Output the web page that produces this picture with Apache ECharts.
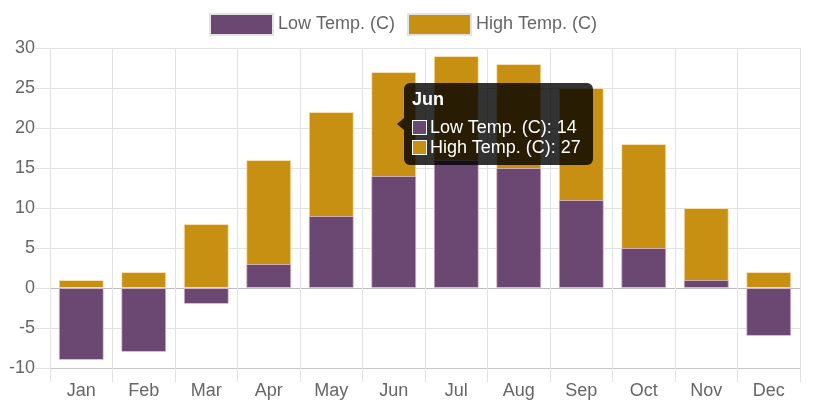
<!DOCTYPE html>
<html>
<head>
<meta charset="utf-8">
<script src="https://cdn.jsdelivr.net/npm/echarts@6/dist/echarts.min.js"></script>
<style>
html,body{margin:0;padding:0;background:#fff;}
#c{width:819px;height:409px;}
</style>
</head>
<body>
<div id="c"></div>
<script>
const months = ['Jan','Feb','Mar','Apr','May','Jun','Jul','Aug','Sep','Oct','Nov','Dec'];
const lowTemp = [-9,-8,-2,3,9,14,16,15,11,5,1,-6];
const highTemp = [1,2,8,16,22,27,29,28,25,18,10,2];
const lowName = 'Low Temp. (C)';
const highName = 'High Temp. (C)';
const lowColor = '#6b4872';
const highColor = '#c89013';
const font = '"Liberation Sans", Arial, Helvetica, sans-serif';

const chart = echarts.init(document.getElementById('c'), null, {renderer:'canvas'});
function sw(c){return '<span style="display:inline-block;width:13px;height:13px;background:'+c+';border:1px solid #fff;vertical-align:-2px;margin-right:3px"></span>';}
chart.setOption({
  animation:false,
  textStyle:{fontFamily:font},
  legend:{
    data:[lowName, highName],
    left:204, top:8,
    itemWidth:63, itemHeight:21, itemGap:12,
    icon:'rect',
    itemStyle:{borderColor:'#e3e3e3', borderWidth:2},
    textStyle:{fontSize:18, color:'#666', fontFamily:font}
  },
  tooltip:{
    trigger:'axis',
    triggerOn:'none',
    alwaysShowContent:true,
    axisPointer:{type:'none'},
    backgroundColor:'rgba(0,0,0,0.8)',
    borderWidth:0,
    borderRadius:6,
    padding:[6,12,8,8],
    extraCssText:'box-shadow:none;overflow:visible;',
    position:[404,83],
    formatter:function(params){
      const i = params[0].dataIndex;
      return '<div style="position:relative;font-family:'+font.replace(/"/g,"'")+';color:#fff;font-size:18px;line-height:20px;">'
        + '<div style="position:absolute;left:-15px;top:29px;width:0;height:0;border-top:6px solid transparent;border-bottom:6px solid transparent;border-right:7px solid rgba(0,0,0,0.8);"></div>'
        + '<div style="font-weight:bold;margin-bottom:8px;">'+months[i]+'</div>'
        + '<div>'+sw(lowColor)+lowName+': '+lowTemp[i]+'</div>'
        + '<div>'+sw(highColor)+highName+': '+highTemp[i]+'</div>'
        + '</div>';
    }
  },
  grid:{left:50, right:19, top:48, bottom:41},
  xAxis:{
    type:'category',
    data:months,
    boundaryGap:true,
    axisLine:{onZero:false, lineStyle:{color:'#c8c8c8'}},
    axisTick:{show:true, length:14, lineStyle:{color:'#e2e2e2'}},
    splitLine:{show:true, lineStyle:{color:'#e2e2e2'}},
    axisLabel:{fontSize:18, color:'#666', margin:14, fontFamily:font}
  },
  yAxis:{
    type:'value',
    min:-10, max:30, interval:5,
    axisLine:{show:true, lineStyle:{color:'#e2e2e2'}},
    axisTick:{show:true, length:15, lineStyle:{color:'#e2e2e2'}},
    splitLine:{show:true, lineStyle:{color:['#c8c8c8','#e2e2e2','#bdbdbd','#e2e2e2','#e2e2e2','#e2e2e2','#e2e2e2','#e2e2e2','#e2e2e2']}},
    axisLabel:{fontSize:18, color:'#666', margin:15, fontFamily:font}
  },
  series:[
    {name:highName, type:'bar', data:highTemp, barWidth:45, barGap:'-100%',
     emphasis:{disabled:true},
     itemStyle:{color:highColor, borderColor:'rgba(255,235,190,0.7)', borderWidth:1}},
    {name:lowName, type:'bar', data:lowTemp, barWidth:45, barGap:'-100%',
     emphasis:{disabled:true},
     itemStyle:{color:lowColor, borderColor:'rgba(230,200,230,0.7)', borderWidth:1}}
  ]
});
chart.dispatchAction({type:'showTip', seriesIndex:0, dataIndex:5});
</script>
</body>
</html>
